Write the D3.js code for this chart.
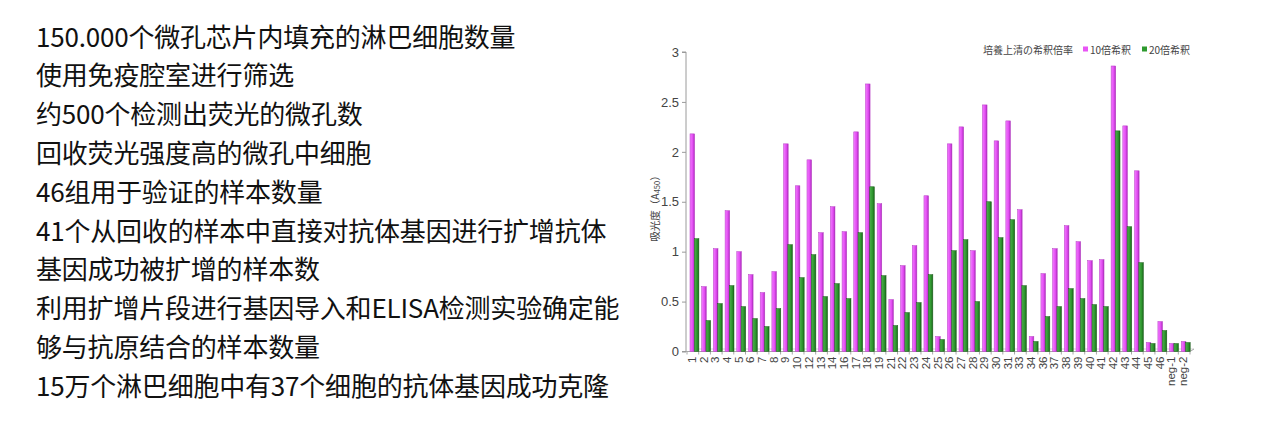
<!DOCTYPE html>
<html>
<head>
<meta charset="utf-8">
<script src="https://cdn.jsdelivr.net/npm/d3@7"></script>
<style>
  html, body { margin: 0; padding: 0; background: #fff; }
  svg { display: block; }
</style>
</head>
<body>
<svg id="chart" width="1266" height="446"></svg>
<script>
// ---- data ----
const textLines = [
  "150.000个微孔芯片内填充的淋巴细胞数量",
  "使用免疫腔室进行筛选",
  "约500个检测出荧光的微孔数",
  "回收荧光强度高的微孔中细胞",
  "46组用于验证的样本数量",
  "41个从回收的样本中直接对抗体基因进行扩增抗体",
  "基因成功被扩增的样本数",
  "利用扩增片段进行基因导入和ELISA检测实验确定能",
  "够与抗原结合的样本数量",
  "15万个淋巴细胞中有37个细胞的抗体基因成功克隆"
];
const categories = ["1","2","3","4","5","6","7","8","9","10","12","13","14","16","17","18","19","21","22","23","24","25","26","27","28","29","30","31","33","34","36","37","38","39","40","41","42","43","44","45","46","neg-1","neg-2"];
const dilution10 = [2.18,0.65,1.03,1.41,1.00,0.77,0.59,0.80,2.08,1.66,1.92,1.19,1.45,1.20,2.20,2.68,1.48,0.52,0.86,1.06,1.56,0.15,2.08,2.25,1.01,2.47,2.11,2.31,1.42,0.15,0.78,1.03,1.26,1.10,0.91,0.92,2.86,2.26,1.81,0.09,0.30,0.08,0.10];
const dilution20 = [1.13,0.31,0.48,0.66,0.45,0.33,0.25,0.43,1.07,0.74,0.97,0.55,0.68,0.53,1.19,1.65,0.76,0.26,0.39,0.49,0.77,0.12,1.01,1.12,0.50,1.50,1.14,1.32,0.66,0.10,0.35,0.45,0.63,0.53,0.47,0.45,2.21,1.25,0.89,0.08,0.21,0.08,0.09];
const yTicks = [0, 0.5, 1, 1.5, 2, 2.5, 3];
const seriesNames = ["10倍希釈", "20倍希釈"];
const legendTitle = "培養上清の希釈倍率";
const yLabelMain = "吸光度（A";
const yLabelSub = "450";
const yLabelEnd = "）";

// ---- render ----
const svg = d3.select("#chart");

// left text block
svg.append("g")
  .selectAll("text")
  .data(textLines)
  .join("text")
  .attr("x", 36)
  .attr("y", (d, i) => 35 + i * 38.8)
  .attr("dominant-baseline", "central")
  .attr("font-family", "'Noto Sans CJK SC', sans-serif")
  .attr("font-size", 26)
  .attr("letter-spacing", -0.2)
  .attr("fill", "#111")
  .text(d => d);

// chart
const x = d3.scaleBand().domain(categories).range([687, 1190]).padding(0);
const y = d3.scaleLinear().domain([0, 3]).range([351.5, 52]);

const defs = svg.append("defs");
function grad(id, c1, c2, c3) {
  const g = defs.append("linearGradient").attr("id", id).attr("x1", "0").attr("x2", "1").attr("y1", "0").attr("y2", "0");
  g.append("stop").attr("offset", "0%").attr("stop-color", c1);
  g.append("stop").attr("offset", "60%").attr("stop-color", c2);
  g.append("stop").attr("offset", "100%").attr("stop-color", c3);
}
grad("gm", "#f27cff", "#e24cf2", "#a82ab8");
grad("gg", "#4cb04c", "#2e962e", "#1a621a");

const barW = 4.6;
const chart = svg.append("g");

// y axis
const yAxis = d3.axisLeft(y).tickValues(yTicks).tickSize(4).tickPadding(3)
  .tickFormat(d => d3.format("")(d));
const gy = chart.append("g").attr("transform", "translate(686,0)").call(yAxis);
gy.select(".domain").attr("stroke", "#9a9a9a").attr("d", `M-4,${y(3)}H0V${y(0)}H-4`);
gy.selectAll(".tick line").attr("stroke", "#9a9a9a");
gy.selectAll(".tick text")
  .attr("font-family", "'Liberation Sans', Arial, sans-serif")
  .attr("font-size", 13)
  .attr("fill", "#444");

// x axis
const xAxis = d3.axisBottom(x).tickSize(0).tickPadding(0);
const gx = chart.append("g").attr("transform", `translate(0,${y(0)})`).call(xAxis);
gx.select(".domain").remove();
gx.selectAll(".tick text")
  .attr("font-family", "'Liberation Sans', Arial, sans-serif")
  .attr("font-size", 11.5)
  .attr("fill", "#444")
  .attr("text-anchor", "end")
  .attr("dy", null)
  .attr("y", 0)
  .attr("transform", "translate(-1,5) rotate(-90)")
  .attr("dominant-baseline", "central");

// floor line and category separators
chart.append("line")
  .attr("x1", 686).attr("x2", 1190)
  .attr("y1", y(0)).attr("y2", y(0))
  .attr("stroke", "#a8a8a8").attr("stroke-width", 1);
chart.append("line")
  .attr("x1", 690).attr("x2", 1194)
  .attr("y1", y(0) - 2.5).attr("y2", y(0) - 2.5)
  .attr("stroke", "#d4d4d4").attr("stroke-width", 1);
chart.append("line")
  .attr("x1", 1190).attr("x2", 1194)
  .attr("y1", y(0)).attr("y2", y(0) - 2.5)
  .attr("stroke", "#a8a8a8");
chart.append("g")
  .selectAll("line")
  .data(categories.concat(["__end"]))
  .join("line")
  .attr("x1", (d, i) => i < categories.length ? x(d) : x.range()[1])
  .attr("x2", (d, i) => i < categories.length ? x(d) : x.range()[1])
  .attr("y1", y(0)).attr("y2", y(0) + 3)
  .attr("stroke", "#a8a8a8");

// bars
const bars = chart.append("g");
bars.selectAll("rect.m")
  .data(categories.map((c, i) => ({ c, v: dilution10[i] })))
  .join("rect")
  .attr("class", "m")
  .attr("x", d => x(d.c) + 3)
  .attr("y", d => y(d.v))
  .attr("width", barW)
  .attr("height", d => y(0) - y(d.v))
  .attr("fill", "url(#gm)")
  .attr("stroke", "#b53cc4")
  .attr("stroke-width", 0.5);
bars.selectAll("rect.g")
  .data(categories.map((c, i) => ({ c, v: dilution20[i] })))
  .join("rect")
  .attr("class", "g")
  .attr("x", d => x(d.c) + 3 + barW - 0.3)
  .attr("y", d => y(d.v))
  .attr("width", barW)
  .attr("height", d => y(0) - y(d.v))
  .attr("fill", "url(#gg)")
  .attr("stroke", "#1d5f1d")
  .attr("stroke-width", 0.5);

// y axis label
const yl = chart.append("text")
  .attr("transform", "translate(654,206) rotate(-90)")
  .attr("text-anchor", "middle")
  .attr("dominant-baseline", "central")
  .attr("font-family", "'Noto Sans CJK JP', sans-serif")
  .attr("font-size", 10.5)
  .attr("fill", "#444");
yl.append("tspan").text(yLabelMain);
yl.append("tspan").attr("font-size", 7.5).attr("dy", 2).text(yLabelSub);
yl.append("tspan").attr("dy", -2).text(yLabelEnd);

// legend
const lg = chart.append("g").attr("font-family", "'Noto Sans CJK JP', sans-serif").attr("font-size", 10).attr("fill", "#444");
lg.append("text").attr("x", 983).attr("y", 49).attr("dominant-baseline", "central").text(legendTitle);
const legendX = [1083, 1142];
const legendColors = ["#e855f5", "#2e9a2e"];
seriesNames.forEach((s, i) => {
  lg.append("rect").attr("x", legendX[i]).attr("y", 46.5).attr("width", 5).attr("height", 5).attr("fill", legendColors[i]);
  lg.append("text").attr("x", legendX[i] + 7).attr("y", 49).attr("dominant-baseline", "central").text(s);
});
</script>
</body>
</html>
